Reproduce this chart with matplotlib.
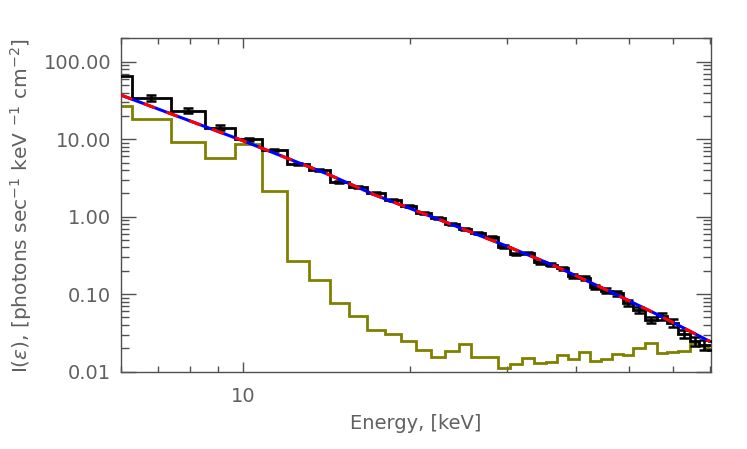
import numpy as np
import matplotlib
matplotlib.use("Agg")
import matplotlib.pyplot as plt
from matplotlib.ticker import LogLocator, NullFormatter, FixedLocator, FixedFormatter

# ---------------- data ----------------
bin_edges = [5.30, 6.28, 7.39, 8.53, 9.67, 10.79, 11.98, 13.13, 14.32, 15.52,
             16.74, 18.02, 19.27, 20.57, 21.90, 23.22, 24.58, 25.88, 27.44,
             28.92, 30.37, 31.97, 33.57, 35.25, 37.00, 38.74, 40.51, 42.50,
             44.36, 46.44, 48.74, 50.82, 53.37, 56.05, 58.59, 61.33, 64.39,
             66.94, 69.51, 72.00]

observed_flux = [66.0, 34.1, 23.4, 14.1, 10.0, 7.28, 4.75, 3.95, 2.84, 2.44,
                 2.00, 1.65, 1.38, 1.11, 0.957, 0.807, 0.69, 0.61, 0.553,
                 0.411, 0.330, 0.338, 0.256, 0.239, 0.216, 0.172, 0.161,
                 0.125, 0.111, 0.103, 0.0765, 0.063, 0.0466, 0.0514, 0.0423,
                 0.0305, 0.0245, 0.0222, 0.022]

observed_rel_err = [0.0, 0.08, 0.07, 0.07, 0.05, 0.03, 0.03, 0.03, 0.03, 0.03,
                    0.03, 0.03, 0.03, 0.03, 0.03, 0.03, 0.03, 0.03, 0.03,
                    0.04, 0.04, 0.04, 0.04, 0.04, 0.05, 0.05, 0.05, 0.06,
                    0.07, 0.07, 0.08, 0.09, 0.10, 0.10, 0.11, 0.12, 0.13,
                    0.14, 0.14]

background_flux = [26.9, 18.1, 9.2, 5.69, 8.69, 2.15, 0.269, 0.153, 0.0766,
                   0.0514, 0.0346, 0.0307, 0.0250, 0.0191, 0.0156, 0.0182,
                   0.0226, 0.0156, 0.0154, 0.0111, 0.0126, 0.0149, 0.0129,
                   0.0133, 0.0161, 0.0145, 0.0176, 0.0135, 0.0146, 0.0170,
                   0.0165, 0.0201, 0.0233, 0.0173, 0.0179, 0.0185, 0.0233,
                   0.0211, 0.0187]

model_energy = [5.99, 10.0, 14.32, 17.29, 22.68, 29.74, 36.6, 46.1, 56.8, 70.0]
model_flux = [37.3, 9.5, 3.46, 1.91, 0.91, 0.426, 0.232, 0.108, 0.0525, 0.0244]

x_tick_values = [10]
x_tick_labels = ["10"]
y_tick_values = [0.01, 0.1, 1, 10, 100]
y_tick_labels = ["0.01", "0.10", "1.00", "10.00", "100.00"]

# ---------------- figure ----------------
W, H = 747, 449
fig = plt.figure(figsize=(W / 100, H / 100), dpi=100)
ax = fig.add_axes([121 / W, 1 - 371.5 / H, (711 - 121) / W, (371.5 - 38.5) / H])
ax.set_xscale("log")
ax.set_yscale("log")
ax.set_xlim(6.0, 70.3)
ax.set_ylim(0.01, 200)

edges = np.array(bin_edges)
obs = np.array(observed_flux)
bkg = np.array(background_flux)
err = np.array(observed_rel_err) * obs
centers = np.sqrt(edges[:-1] * edges[1:])

olive = "#808000"
ax.stairs(bkg, edges, baseline=None, color=olive, lw=2.0, zorder=2)
ax.stairs(obs, edges, baseline=None, color="black", lw=2.0, zorder=3)
mask = np.array(observed_rel_err) > 0
ax.errorbar(centers[mask], obs[mask], yerr=err[mask], fmt="none", ecolor="black",
            elinewidth=1.8, capsize=3.5, capthick=1.8, zorder=4)

ax.plot(model_energy, model_flux, color="#0000ff", lw=2.2, zorder=5,
        solid_capstyle="butt")
ax.plot(model_energy, model_flux, color="#ff0000", lw=2.2, zorder=6,
        dashes=(4, 4), dash_capstyle="butt")

text_color = "#606060"
frame_color = "#505050"
for s in ax.spines.values():
    s.set_color(frame_color)
    s.set_linewidth(1.0)

ax.xaxis.set_major_locator(FixedLocator(x_tick_values))
ax.xaxis.set_major_formatter(FixedFormatter(x_tick_labels))
ax.xaxis.set_minor_locator(LogLocator(base=10, subs=np.arange(2, 10), numticks=20))
ax.xaxis.set_minor_formatter(NullFormatter())
ax.yaxis.set_major_locator(FixedLocator(y_tick_values))
ax.yaxis.set_major_formatter(FixedFormatter(y_tick_labels))
ax.yaxis.set_minor_locator(LogLocator(base=10, subs=np.arange(2, 10), numticks=20))
ax.yaxis.set_minor_formatter(NullFormatter())

ax.tick_params(axis="x", which="major", direction="in", length=7, width=1,
               top=True, bottom=True, color=frame_color, labelcolor=text_color,
               labelsize=14, pad=11)
ax.tick_params(axis="x", which="minor", direction="in", length=4.5, width=1,
               top=True, bottom=True, color=frame_color)
ax.tick_params(axis="y", which="major", direction="in", length=11, width=1,
               left=True, right=True, color=frame_color, labelcolor=text_color,
               labelsize=14, pad=7)
ax.tick_params(axis="y", which="minor", direction="in", length=6, width=1,
               left=True, right=True, color=frame_color)

ax.set_xlabel("Energy, [keV]", fontsize=14, color=text_color, labelpad=6)
ax.set_ylabel(r"I($\epsilon$), [photons sec$^{-1}$ keV $^{-1}$ cm$^{-2}$]",
              fontsize=14.5, color=text_color, labelpad=7)

fig.savefig("out.png", dpi=100, facecolor="white")
